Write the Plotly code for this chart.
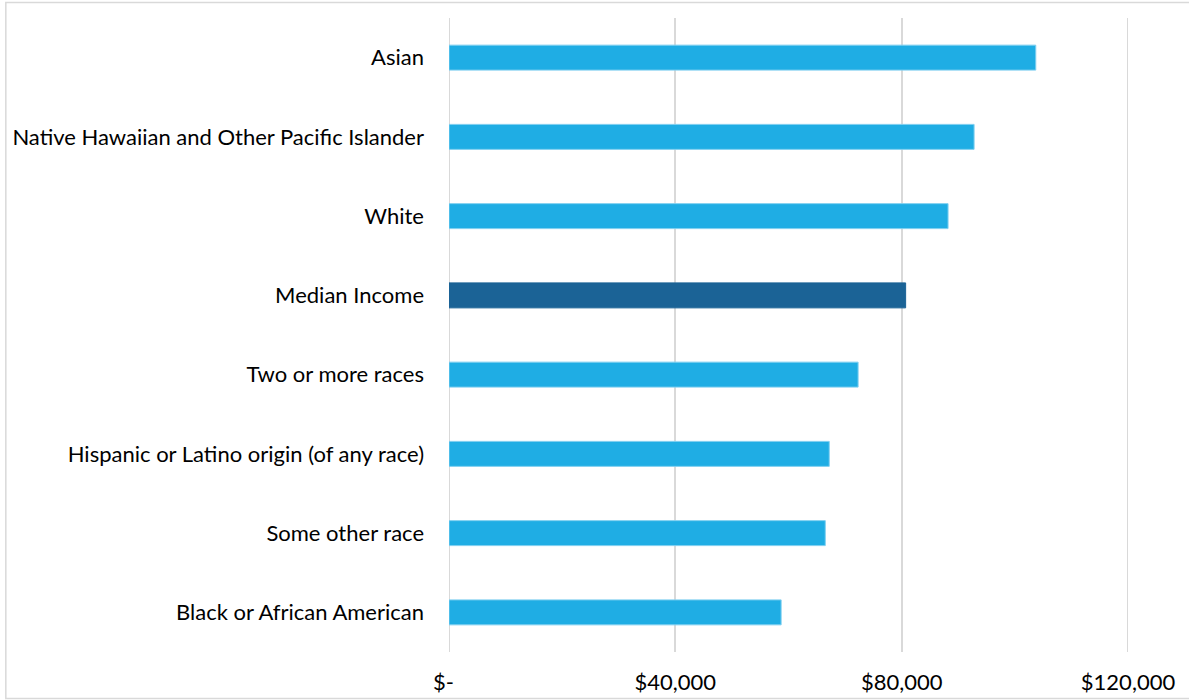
import plotly.graph_objects as go

categories = [
    "Asian",
    "Native Hawaiian and Other Pacific Islander",
    "White",
    "Median Income",
    "Two or more races",
    "Hispanic or Latino origin (of any race)",
    "Some other race",
    "Black or African American",
]
incomes = [103700, 92800, 88200, 80700, 72300, 67200, 66500, 58700]
bar_colors = ["#1FADE4", "#1FADE4", "#1FADE4", "#1B6396",
              "#1FADE4", "#1FADE4", "#1FADE4", "#1FADE4"]
edge_colors = ["#7FCFF0", "#7FCFF0", "#7FCFF0", "#1B6396",
               "#7FCFF0", "#7FCFF0", "#7FCFF0", "#7FCFF0"]
tick_vals = [0, 40000, 80000, 120000]
tick_text = ["$-\u00a0\u00a0", "$40,000", "$80,000", "$120,000"]

FONT = "Lato, Carlito, Calibri, sans-serif"
FS = 22

fig = go.Figure(
    go.Bar(
        x=incomes,
        y=categories,
        orientation="h",
        width=0.315,
        marker=dict(color=bar_colors, line=dict(color=edge_colors, width=1)),
        hoverinfo="x+y",
    )
)

# edge gridlines (plotly drops gridlines lying exactly on the range ends)
edge_grid = [
    dict(type="line", xref="x", yref="paper", x0=v, x1=v, y0=0, y1=1,
         line=dict(color="#D9D9D9", width=2), layer="below")
    for v in (tick_vals[0], tick_vals[-1])
]

fig.update_layout(
    width=1189,
    height=700,
    margin=dict(l=448.5, r=61, t=18, b=48, pad=0, autoexpand=False),
    paper_bgcolor="white",
    plot_bgcolor="white",
    showlegend=False,
    font=dict(family=FONT, size=FS, color="#000000"),
    xaxis=dict(
        range=[0, 120000],
        tickvals=tick_vals,
        ticktext=tick_text,
        showgrid=True,
        gridcolor="#D9D9D9",
        gridwidth=2,
        zeroline=False,
        showline=False,
        ticks="",
        ticklabelstandoff=15,
        automargin=False,
        tickfont=dict(family=FONT, size=FS, color="#000000"),
        fixedrange=True,
    ),
    yaxis=dict(
        autorange="reversed",
        showgrid=False,
        zeroline=False,
        showline=False,
        ticks="",
        ticklabelstandoff=24,
        automargin=False,
        tickfont=dict(family=FONT, size=FS, color="#000000"),
        fixedrange=True,
    ),
    shapes=edge_grid + [
        dict(
            type="rect",
            xref="paper", yref="paper",
            x0=(5 - 448.5) / 679.5, x1=(1190 - 448.5) / 679.5,
            y0=(652 - 698.5) / 634, y1=(652 - 2.5) / 634,
            line=dict(color="#D9D9D9", width=1.5),
            fillcolor="rgba(0,0,0,0)",
            layer="below",
        )
    ],
)

fig.write_html(
    "out.html",
    config={"displayModeBar": False},
    post_script="document.body.style.margin='0';",
)
